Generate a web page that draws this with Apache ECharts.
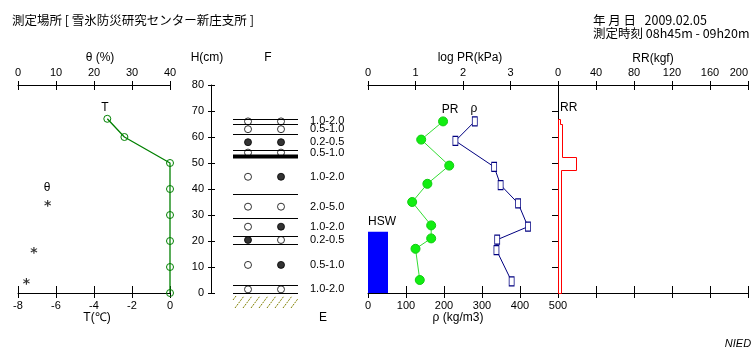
<!DOCTYPE html>
<html><head><meta charset="utf-8">
<script src="https://cdn.jsdelivr.net/npm/echarts@6/dist/echarts.min.js"></script>
<style>html,body{margin:0;padding:0;background:#fff}#c{width:756px;height:360px}</style>
</head><body><div id="c"></div>
<script>
// ---- data ----
const heightTicks = [0, 10, 20, 30, 40, 50, 60, 70, 80];
const tempTicks = [-8, -6, -4, -2, 0];
const thetaTicks = [0, 10, 20, 30, 40];
const logPRTicks = [0, 1, 2, 3];
const densityTicks = [0, 100, 200, 300, 400, 500];
const rrTicks = [0, 40, 80, 120, 160, 200];

const tempHeights = [67, 60, 50, 40, 30, 20, 10, 0];
const tempValues = [-3.3, -2.4, 0, 0, 0, 0, 0, 0];
const thetaHeights = [34.5, 16.3, 4.6];
const thetaValues = [7.8, 4.2, 2.2];

const layerBoundaries = [67, 65, 61, 55, 38, 29, 22, 19, 3, 0];
const crustHeights = [52.5];
const grainHeights = [66, 63, 58, 54, 44.7, 33.2, 25.5, 20.4, 10.8, 1.4];
const grainLeft = ['open', 'open', 'solid', 'open', 'open', 'open', 'open', 'solid', 'open', 'open'];
const grainRight = ['open', 'open', 'solid', 'open', 'solid', 'open', 'solid', 'open', 'solid', 'open'];
const grainSizes = ['1.0-2.0', '0.5-1.0', '0.2-0.5', '0.5-1.0', '1.0-2.0', '2.0-5.0', '1.0-2.0', '0.2-0.5', '0.5-1.0', '1.0-2.0'];

const prHeights = [66, 59, 49, 42, 35, 26, 21, 17, 5];
const prLogValues = [1.58, 1.12, 1.71, 1.25, 0.93, 1.33, 1.33, 1.0, 1.09];
const densityHeights = [66, 58.5, 48.5, 41.5, 34.5, 25.5, 20.5, 16.5, 4.5];
const densityValues = [281, 230, 332, 349, 395, 421, 340, 338, 378];
const hswValue = 23.6;

const rrTops = [67, 65, 52.5, 47.5];
const rrBottoms = [65, 52.5, 47.5, 0];
const rrValues = [2, 4, 18.5, 3.5];

// ---- helpers ----
const NUM_FONT = "'Liberation Sans',Arial,sans-serif";
const JP_FONT = "'Noto Sans CJK JP',sans-serif";
const first = a => a[0], last = a => a[a.length - 1];
const ticksAxis = t => ({ min: first(t), max: last(t), interval: t[1] - t[0] });
const TICK_FONT = 11;

function xAx(grid, pos, ticks, o) {
  return Object.assign({
    type: 'value', gridIndex: grid, position: pos, ...ticksAxis(ticks),
    axisLine: { show: true, onZero: false, lineStyle: { color: '#000', width: 1 } },
    axisTick: { show: true, inside: false, length: 5, lineStyle: { color: '#000' } },
    axisLabel: { show: true, color: '#000', fontSize: TICK_FONT, fontFamily: NUM_FONT, margin: 7 },
    splitLine: { show: false }
  }, o || {});
}
function tickOnly(grid, pos, ticks, inside, len) {
  return xAx(grid, pos, ticks, {
    axisLine: { show: false, onZero: false },
    axisTick: { show: true, inside: inside, length: len, lineStyle: { color: '#000' } },
    axisLabel: { show: false }
  });
}

const hAxis = ticksAxis(heightTicks);

const xAxis = [
  xAx(0, 'bottom', tempTicks, { axisTick: { show: true, inside: true, length: 7, lineStyle: { color: '#000' } } }),
  xAx(0, 'top', thetaTicks, { axisTick: { show: true, inside: false, length: 4, lineStyle: { color: '#000' } } }),
  { type: 'value', gridIndex: 1, min: 0, max: 100, show: false },
  xAx(2, 'bottom', densityTicks, { axisTick: { show: true, inside: true, length: 7, lineStyle: { color: '#000' } } }),
  xAx(2, 'top', [0, 1, 2, 3, 4], { axisTick: { show: true, inside: false, length: 4, lineStyle: { color: '#000' } },
    axisLabel: { show: true, color: '#000', fontSize: TICK_FONT, fontFamily: NUM_FONT, margin: 7,
      formatter: v => logPRTicks.indexOf(v) >= 0 ? String(v) : '' } }),
  xAx(3, 'top', rrTicks, { axisTick: { show: true, inside: false, length: 4, lineStyle: { color: '#000' } },
    axisLabel: { show: true, color: '#000', fontSize: TICK_FONT, fontFamily: NUM_FONT, margin: 7, alignMaxLabel: 'right' } }),
  xAx(3, 'bottom', rrTicks, { axisTick: { show: true, inside: true, length: 7, lineStyle: { color: '#000' } }, axisLabel: { show: false } }),
  tickOnly(0, 'bottom', tempTicks, false, 5),
  tickOnly(0, 'top', thetaTicks, true, 5),
  tickOnly(2, 'bottom', densityTicks, false, 5),
  tickOnly(2, 'top', [0, 1, 2, 3, 4], true, 5),
  tickOnly(3, 'top', rrTicks, true, 5),
  tickOnly(3, 'bottom', rrTicks, false, 5)
];

const yAxis = [
  { type: 'value', gridIndex: 0, ...hAxis, show: false },
  { type: 'value', gridIndex: 1, ...hAxis, position: 'left',
    axisLine: { show: true, onZero: false, lineStyle: { color: '#000' } },
    axisTick: { show: true, inside: false, length: 3, lineStyle: { color: '#000' } },
    axisLabel: { show: true, color: '#000', fontSize: TICK_FONT, fontFamily: NUM_FONT, margin: 7 },
    splitLine: { show: false } },
  { type: 'value', gridIndex: 2, ...hAxis, show: false },
  { type: 'value', gridIndex: 3, ...hAxis, position: 'left',
    axisLine: { show: true, onZero: false, lineStyle: { color: '#000' } },
    axisTick: { show: true, inside: false, length: 6, lineStyle: { color: '#000' } },
    axisLabel: { show: false }, splitLine: { show: false } },
  { type: 'value', gridIndex: 1, ...hAxis, position: 'left',
    axisLine: { show: false, onZero: false },
    axisTick: { show: true, inside: true, length: 4, lineStyle: { color: '#000' } },
    axisLabel: { show: false }, splitLine: { show: false } }
];

const PX0 = 22, PX1 = 87, COL_L = 37, COL_R = 70, LABEL_X = 99;

function grainItems(shapes, col) {
  return grainHeights.map((h, i) => ({
    value: [col, h],
    itemStyle: shapes[i] === 'solid'
      ? { color: '#000', borderColor: '#000', borderWidth: 1 }
      : { color: 'rgba(0,0,0,0)', borderColor: '#000', borderWidth: 1 }
  }));
}

const rrPath = [[0, rrTops[0]]];
rrValues.forEach((v, i) => { rrPath.push([v, rrTops[i]]); rrPath.push([v, rrBottoms[i]]); });
rrPath.push([0, last(rrBottoms)]);
rrPath.push([0, rrTops[0]]);

const series = [
  { type: 'line', xAxisIndex: 0, yAxisIndex: 0, data: tempHeights.map((h, i) => [tempValues[i], h]),
    symbol: 'circle', symbolSize: 7, lineStyle: { color: '#008000', width: 1.3 },
    itemStyle: { color: 'rgba(0,0,0,0)', borderColor: '#008000', borderWidth: 1 }, z: 3 },
  { type: 'scatter', xAxisIndex: 1, yAxisIndex: 0, data: thetaHeights.map((h, i) => [thetaValues[i], h]),
    symbolSize: 1, itemStyle: { color: 'rgba(0,0,0,0)' },
    label: { show: true, position: 'inside', formatter: '*', color: '#000', fontSize: 14, fontWeight: 'bold', fontFamily: 'DejaVu Sans', offset: [0, 3] } },
  { type: 'custom', xAxisIndex: 2, yAxisIndex: 1, data: layerBoundaries.map(h => [h]),
    renderItem: (p, api) => {
      const a = api.coord([PX0, api.value(0)]), b = api.coord([PX1, api.value(0)]);
      return { type: 'line', shape: { x1: a[0], y1: Math.round(a[1]) + 0.5, x2: b[0], y2: Math.round(a[1]) + 0.5 }, style: { stroke: '#000', lineWidth: 1.2 } };
    } },
  { type: 'custom', xAxisIndex: 2, yAxisIndex: 1, data: crustHeights.map(h => [h]),
    renderItem: (p, api) => {
      const a = api.coord([PX0, api.value(0)]), b = api.coord([PX1, api.value(0)]);
      return { type: 'line', shape: { x1: a[0], y1: a[1], x2: b[0], y2: b[1] }, style: { stroke: '#000', lineWidth: 4 } };
    } },
  { type: 'custom', xAxisIndex: 2, yAxisIndex: 1, data: [[0]],
    renderItem: (p, api) => {
      const a = api.coord([PX0, api.value(0)]), b = api.coord([PX1, api.value(0)]);
      const g = a[1], L = a[0], R = b[0], DX = 9, Y0 = g + 3, Y1 = g + 15, children = [];
      const slope = (Y1 - Y0) / DX;
      for (let x0 = L - DX + 3; x0 < R; x0 += 8) {
        let xs = x0, ys = Y1, xe = x0 + DX, ye = Y0;
        if (xs < L) { ys -= (L - xs) * slope; xs = L; }
        if (xe > R) { ye += (xe - R) * slope; xe = R; }
        if (xe > xs) children.push({ type: 'line', shape: { x1: xs, y1: ys, x2: xe, y2: ye }, style: { stroke: '#808000', lineWidth: 1, lineDash: [2, 1] } });
      }
      return { type: 'group', children };
    } },
  { type: 'scatter', xAxisIndex: 2, yAxisIndex: 1, data: grainItems(grainLeft, COL_L), symbol: 'circle', symbolSize: 7, z: 4 },
  { type: 'scatter', xAxisIndex: 2, yAxisIndex: 1, data: grainItems(grainRight, COL_R), symbol: 'circle', symbolSize: 7, z: 4 },
  { type: 'custom', xAxisIndex: 2, yAxisIndex: 1, data: grainHeights.map((h, i) => [h, i]),
    renderItem: (p, api) => {
      const a = api.coord([LABEL_X, api.value(0)]);
      return { type: 'text', x: a[0], y: a[1], style: { text: grainSizes[api.value(1)], fill: '#000', font: '11px ' + NUM_FONT, align: 'left', verticalAlign: 'middle' } };
    } },
  { type: 'custom', xAxisIndex: 3, yAxisIndex: 2, data: [[hswValue]],
    renderItem: (p, api) => {
      const t = api.coord([0, api.value(0)]), b = api.coord([0, 0]);
      return { type: 'rect', shape: { x: t[0], y: t[1], width: 20, height: b[1] - t[1] }, style: { fill: '#0000ff' } };
    } },
  { type: 'line', xAxisIndex: 4, yAxisIndex: 2, data: prHeights.map((h, i) => [prLogValues[i], h]),
    symbol: 'circle', symbolSize: 9, lineStyle: { color: '#33dd33', width: 1 },
    itemStyle: { color: '#11ee11', borderColor: '#11cc11', borderWidth: 1 } },
  { type: 'line', xAxisIndex: 3, yAxisIndex: 2, data: densityHeights.map((h, i) => [densityValues[i], h]),
    symbol: 'rect', symbolSize: [5, 9], lineStyle: { color: '#000080', width: 1 },
    itemStyle: { color: '#fff', borderColor: '#000080', borderWidth: 1 } },
  { type: 'custom', xAxisIndex: 5, yAxisIndex: 3, data: [[0]], z: 5,
    renderItem: (p, api) => {
      const pts = rrPath.map(q => { const c = api.coord(q); return [Math.round(c[0]) + 0.5, Math.round(c[1]) + 0.5]; });
      return { type: 'polyline', shape: { points: pts }, style: { stroke: '#ff0000', lineWidth: 1, fill: null } };
    } }
];

function txt(text, x, y, o) {
  return { type: 'text', x, y, silent: true,
    style: Object.assign({ text, fill: '#000', font: '12px ' + NUM_FONT, align: 'left', verticalAlign: 'middle', textAlign: 'left', textVerticalAlign: 'middle' }, o || {}) };
}
const C = { align: 'center', textAlign: 'center' };
const graphic = [
  txt('測定場所 [ 雪氷防災研究センター新庄支所 ]', 12, 20, { font: '12.5px ' + JP_FONT }),
  txt('年 月 日   2009.02.05', 593, 20, { font: '12.5px ' + JP_FONT }),
  txt('測定時刻 08h45m - 09h20m', 593, 33, { font: '12.5px ' + JP_FONT }),
  txt('θ (%)', 100, 58, C),
  txt('H(cm)', 207, 58, C),
  txt('F', 268, 58, C),
  txt('log PR(kPa)', 470, 58, C),
  txt('RR(kgf)', 653, 59, C),
  txt('T', 105, 108, C),
  txt('θ', 47, 188, C),
  txt('PR', 450, 110, C),
  txt('ρ', 474, 109, C),
  txt('RR', 560, 108),
  txt('HSW', 368, 222),
  txt('T(℃)', 97, 318, C),
  txt('E', 323, 318, C),
  txt('ρ (kg/m3)', 458, 318, C),
  txt('NIED', 738, 344, Object.assign({ font: 'italic 11px ' + NUM_FONT }, C))
];

const chart = echarts.init(document.getElementById('c'), null, { renderer: 'canvas' });
chart.setOption({
  animation: false,
  backgroundColor: '#fff',
  grid: [
    { left: 18, top: 85, width: 152, height: 208, outerBoundsMode: 'none', containLabel: false },
    { left: 211, top: 85, width: 100, height: 208, outerBoundsMode: 'none', containLabel: false },
    { left: 368, top: 85, width: 190, height: 208, outerBoundsMode: 'none', containLabel: false },
    { left: 558, top: 85, width: 190, height: 208, outerBoundsMode: 'none', containLabel: false }
  ],
  xAxis, yAxis, series, graphic
});
</script></body></html>
